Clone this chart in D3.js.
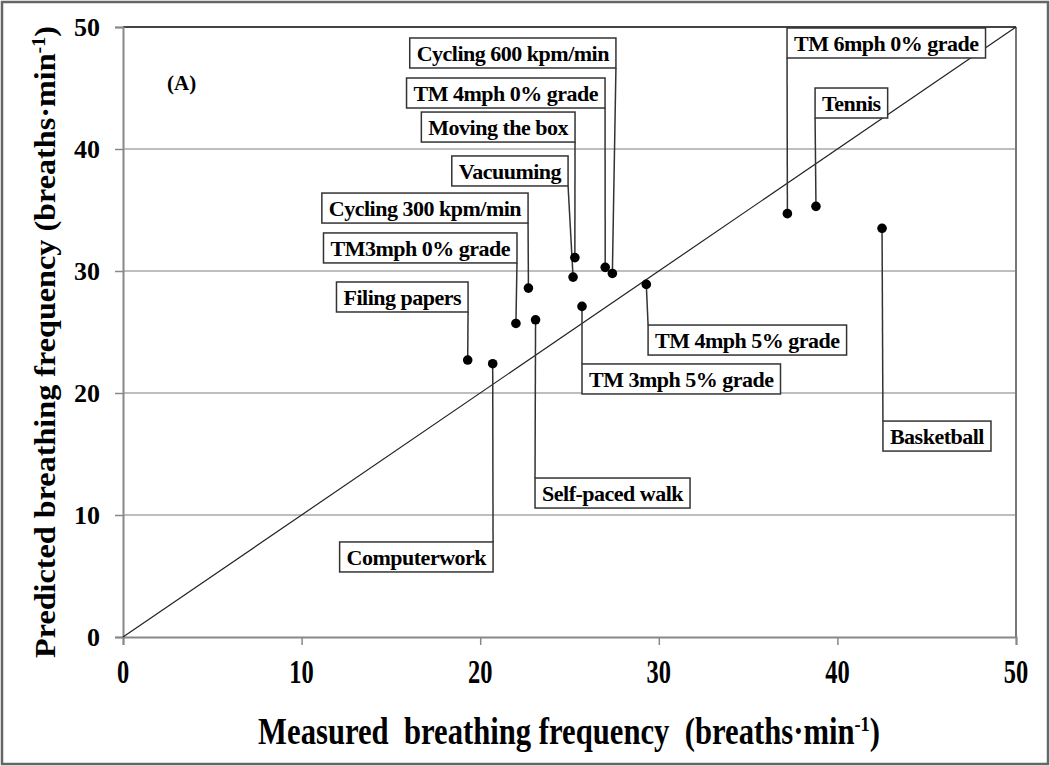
<!DOCTYPE html>
<html>
<head>
<meta charset="utf-8">
<script src="https://cdn.jsdelivr.net/npm/d3@7/dist/d3.min.js"></script>
<style>
  body { margin: 0; background: #fff; }
  svg { display: block; }
</style>
</head>
<body>
<div id="chart"></div>
<script>
// ---- data ----
const activities = [
  "Filing papers", "Computerwork", "TM3mph 0% grade", "Self-paced walk",
  "Cycling 300 kpm/min", "Vacuuming", "Moving the box", "TM 4mph 0% grade",
  "Cycling 600 kpm/min", "TM 3mph 5% grade", "TM 4mph 5% grade",
  "TM 6mph 0% grade", "Tennis", "Basketball"
];
const measured  = [19.3, 20.7, 22.0, 23.1, 22.7, 25.2, 25.3, 27.0, 27.4, 25.7, 29.3, 37.2, 38.8, 42.5];
const predicted = [22.7, 22.4, 25.7, 26.0, 28.6, 29.5, 31.1, 30.3, 29.8, 27.1, 28.9, 34.7, 35.3, 33.5];
const xTicks = [0, 10, 20, 30, 40, 50];
const yTicks = [0, 10, 20, 30, 40, 50];

// label layout: corner of the label box (data units) and which corner the leader attaches to
const labelCornerX = [19.32, 20.72, 22.06, 23.07, 22.68, 24.92, 25.31, 26.99, 27.60, 25.70, 29.40, 37.18, 38.75, 42.55];
const labelCornerY = [26.64, 7.79, 30.66, 13.03, 33.93, 36.97, 40.57, 43.36, 46.64, 22.38, 25.57, 47.46, 42.54, 17.70];
const labelCorner  = ["rb", "rt", "rb", "lt", "rb", "rb", "rb", "rb", "rb", "lt", "lt", "lb", "lb", "lt"];

// ---- layout ----
const W = 1050, H = 766;
const plot = { left: 123, right: 1016, top: 27, bottom: 637 };
const SERIF = "'Liberation Serif', 'Times New Roman', 'DejaVu Serif', serif";

const svg = d3.select("#chart").append("svg").attr("width", W).attr("height", H)
  .style("font-family", SERIF);
svg.append("rect").attr("x", 0).attr("y", 0).attr("width", W).attr("height", H).attr("fill", "#fff");
svg.append("rect").attr("x", 2).attr("y", 2).attr("width", W - 4).attr("height", H - 4)
  .attr("fill", "none").attr("stroke", "#666").attr("stroke-width", 2.5);

const x = d3.scaleLinear().domain([0, 50]).range([plot.left, plot.right]);
const y = d3.scaleLinear().domain([0, 50]).range([plot.bottom, plot.top]);

// gridlines
svg.append("g").selectAll("line").data(yTicks.filter(t => t > 0 && t < 50)).join("line")
  .attr("x1", plot.left).attr("x2", plot.right)
  .attr("y1", d => y(d)).attr("y2", d => y(d))
  .attr("stroke", "#a8a8a8").attr("stroke-width", 1.5);

// plot frame
svg.append("line").attr("x1", plot.left).attr("x2", plot.right).attr("y1", y(50)).attr("y2", y(50))
  .attr("stroke", "#444").attr("stroke-width", 2);
svg.append("line").attr("x1", x(50)).attr("x2", x(50)).attr("y1", plot.top).attr("y2", plot.bottom)
  .attr("stroke", "#777").attr("stroke-width", 2);

// axes
const xAxis = svg.append("g").attr("transform", `translate(0,${plot.bottom})`)
  .call(d3.axisBottom(x).tickValues(xTicks).tickSize(8).tickFormat(""));
const yAxis = svg.append("g").attr("transform", `translate(${plot.left},0)`)
  .call(d3.axisLeft(y).tickValues(yTicks).tickSize(8).tickFormat(""));
[xAxis, yAxis].forEach(g => {
  g.selectAll("path").attr("stroke", "#888").attr("stroke-width", 2);
  g.selectAll("line").attr("stroke", "#888").attr("stroke-width", 1.5);
});

// tick labels
svg.append("g").selectAll("text").data(yTicks).join("text")
  .attr("x", plot.left - 23).attr("y", d => y(d)).attr("dy", "0.35em")
  .attr("text-anchor", "end").attr("font-size", 26).attr("font-weight", "bold")
  .text(d => d);
svg.append("g").selectAll("text").data(xTicks).join("text")
  .attr("transform", d => `translate(${x(d)},${plot.bottom + 46}) scale(0.72,1)`)
  .attr("text-anchor", "middle").attr("font-size", 34).attr("font-weight", "bold")
  .text(d => d);

// axis titles (scaled to the reference's span)
function fitText(g, targetLen) {
  const w = g.select("text").node().getBBox().width;
  return targetLen / w;
}
const xtG = svg.append("g");
const xt = xtG.append("text").attr("x", 0).attr("y", 0)
  .attr("text-anchor", "middle").attr("font-size", 37).attr("font-weight", "bold");
xt.append("tspan").text("Measured\u00A0 breathing frequency\u00A0 (breaths\u00B7min");
xt.append("tspan").attr("dy", -13).attr("font-size", 22).text("-1");
xt.append("tspan").attr("dy", 13).text(")");
const sx = fitText(xtG, 622);
xtG.attr("transform", `translate(569,744) scale(${sx},1)`);

const ytG = svg.append("g");
const yt = ytG.append("text").attr("x", 0).attr("y", 0)
  .attr("text-anchor", "middle").attr("font-size", 29).attr("font-weight", "bold");
yt.append("tspan").text("Predicted breathing frequency (breaths\u00B7min");
yt.append("tspan").attr("dy", -10).attr("font-size", 18).text("-1");
yt.append("tspan").attr("dy", 10).text(")");
const sy = fitText(ytG, 632);
ytG.attr("transform", `translate(55,${(plot.top + plot.bottom) / 2 + 10}) rotate(-90) scale(${sy},1)`);

// panel tag
svg.append("text").attr("x", 167).attr("y", 90).attr("font-size", 21).attr("font-weight", "bold").text("(A)");

// identity line
svg.append("line").attr("x1", x(0)).attr("y1", y(0)).attr("x2", x(50)).attr("y2", y(50))
  .attr("stroke", "#222").attr("stroke-width", 1.2);

// labels with leaders
const pts = activities.map((a, i) => ({
  name: a, mx: measured[i], py: predicted[i],
  cx: labelCornerX[i], cy: labelCornerY[i], corner: labelCorner[i]
}));
const boxH = 30, padX = 7;
const lg = svg.append("g");
pts.forEach(p => {
  const g = lg.append("g");
  const leader = g.append("line").attr("stroke", "#333").attr("stroke-width", 1.5);
  const rect = g.append("rect").attr("fill", "#fff").attr("stroke", "#333").attr("stroke-width", 1.5);
  const t = g.append("text").attr("font-family", SERIF).attr("font-size", 22)
    .attr("font-weight", "bold").attr("letter-spacing", -0.5).text(p.name);
  const tw = t.node().getComputedTextLength();
  const bw = tw + 2 * padX;
  const cxp = x(p.cx), cyp = y(p.cy);
  const left = p.corner[0] === "l" ? cxp : cxp - bw;
  const top = p.corner[1] === "t" ? cyp : cyp - boxH;
  rect.attr("x", left).attr("y", top).attr("width", bw).attr("height", boxH);
  t.attr("x", left + padX).attr("y", top + boxH / 2).attr("dy", "0.35em");
  leader.attr("x1", cxp).attr("y1", cyp).attr("x2", x(p.mx)).attr("y2", y(p.py));
});

// points
svg.append("g").selectAll("circle").data(pts).join("circle")
  .attr("cx", d => x(d.mx)).attr("cy", d => y(d.py)).attr("r", 4.8).attr("fill", "#000");
</script>
</body>
</html>
